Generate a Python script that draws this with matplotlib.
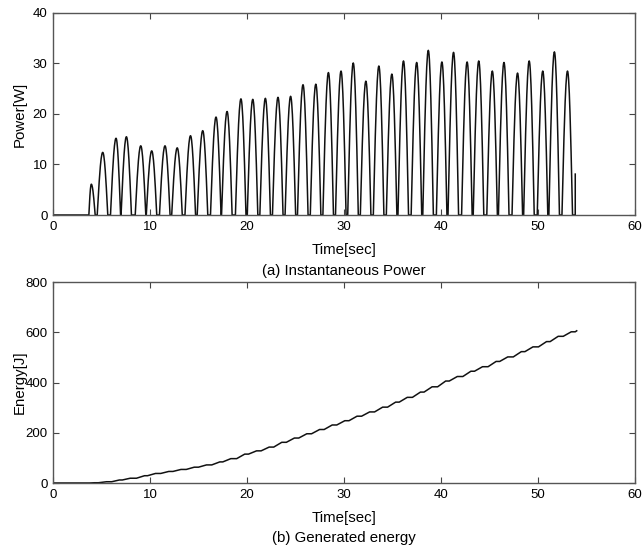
import numpy as np
import matplotlib
matplotlib.use('Agg')
import matplotlib.pyplot as plt

plt.rcParams['font.family'] = ['Liberation Sans', 'DejaVu Sans']

# peaks of the power pulses
peak_time = [3.95, 5.13, 6.5, 7.57, 9.05, 10.18, 11.55, 12.81, 14.18, 15.44,
             16.81, 17.95, 19.38, 20.6, 21.9, 23.2, 24.5, 25.78, 27.1, 28.4,
             29.7, 30.96, 32.26, 33.6, 34.94, 36.14, 37.5, 38.7, 40.1, 41.3,
             42.7, 43.9, 45.3, 46.5, 47.9, 49.1, 50.5, 51.7, 53.05]
peak_power = [6.1, 12.4, 15.2, 15.5, 13.7, 12.7, 13.7, 13.3, 15.7, 16.7,
              19.4, 20.5, 23.0, 22.9, 23.1, 23.3, 23.5, 25.8, 25.9, 28.2,
              28.5, 30.1, 26.5, 29.5, 27.9, 30.5, 30.2, 32.6, 30.3, 32.2,
              30.3, 30.5, 28.5, 30.2, 28.1, 30.5, 28.5, 32.3, 28.5]
# energy at the end of each pulse
pulse_energy = [1, 5, 12, 19, 29, 38, 46, 54, 63, 72,
                84, 97, 115, 128, 143, 162, 179, 196, 213, 231,
                248, 266, 283, 302, 322, 341, 362, 383, 406, 424,
                445, 463, 484, 502, 523, 542, 563, 584, 602]
# last partial sample where the record stops
stub_time = 53.85
stub_power = 8.1
final_energy = 606

# build the curves
t_p, p_p = [0.0], [0.0]
t_e, e_e = [0.0], [0.0]
prev_hi = 0.0
prev_e = 0.0
n = len(peak_time)
for i in range(n):
    pk = peak_time[i]
    rise, fall = (0.25, 0.4) if i == 0 else (0.57, 0.52)
    lo = max(pk - rise, prev_hi + 0.05)
    hi = pk + fall
    if i < n - 1:
        hi = min(hi, peak_time[i + 1] - 0.6)
    s1 = np.linspace(0, 1, 15)
    s2 = np.linspace(0, 1, 15)[1:]
    t_p += list(lo + (pk - lo) * s1) + list(pk + (hi - pk) * s2)
    p_p += list(peak_power[i] * np.sin(s1 * np.pi / 2)) + list(peak_power[i] * np.cos(s2 * np.pi / 2))
    # energy mostly climbs around the middle of a pulse
    d = 0.12 * (hi - lo)
    t_e += [lo + d, hi - d]
    e_e += [prev_e, pulse_energy[i]]
    prev_e = pulse_energy[i]
    prev_hi = hi

t_p += [stub_time, stub_time]
p_p += [0.0, stub_power]
t_e += [stub_time, stub_time + 0.15]
e_e += [prev_e, final_energy]

fig = plt.figure(figsize=(6.43, 5.52), dpi=100)
ax1 = fig.add_axes([0.0824, 0.6105, 0.905, 0.366])
ax2 = fig.add_axes([0.0824, 0.125, 0.905, 0.364])

ax1.plot(t_p, p_p, color='#111111', lw=1.1)
ax2.plot(t_e, e_e, color='#111111', lw=1.1)

ax1.set_xlim(0, 60)
ax1.set_ylim(0, 40)
ax1.set_yticks([0, 10, 20, 30, 40])
ax2.set_xlim(0, 60)
ax2.set_ylim(0, 800)
ax2.set_yticks([0, 200, 400, 600, 800])

for ax in (ax1, ax2):
    ax.set_xticks([0, 10, 20, 30, 40, 50, 60])
    ax.tick_params(direction='in', top=True, right=True, length=4, width=0.8,
                   color='#444444', labelsize=9.5, pad=4)
    for sp in ax.spines.values():
        sp.set_color('#555555')
        sp.set_linewidth(1.0)

W, H = 643.0, 552.0
cx = (53 + 635) / 2 / W
fig.text(cx, 1 - 250 / H, 'Time[sec]', ha='center', va='center', fontsize=10.8)
fig.text(cx, 1 - 271 / H, '(a) Instantaneous Power', ha='center', va='center', fontsize=10.8)
fig.text(cx, 1 - 518 / H, 'Time[sec]', ha='center', va='center', fontsize=10.8)
fig.text(cx, 1 - 538 / H, '(b) Generated energy', ha='center', va='center', fontsize=10.8)
fig.text(20 / W, 1 - 114 / H, 'Power[W]', rotation=90, ha='center', va='center', fontsize=10.8)
fig.text(20 / W, 1 - 382 / H, 'Energy[J]', rotation=90, ha='center', va='center', fontsize=10.8)

fig.savefig('out.png', dpi=100)
